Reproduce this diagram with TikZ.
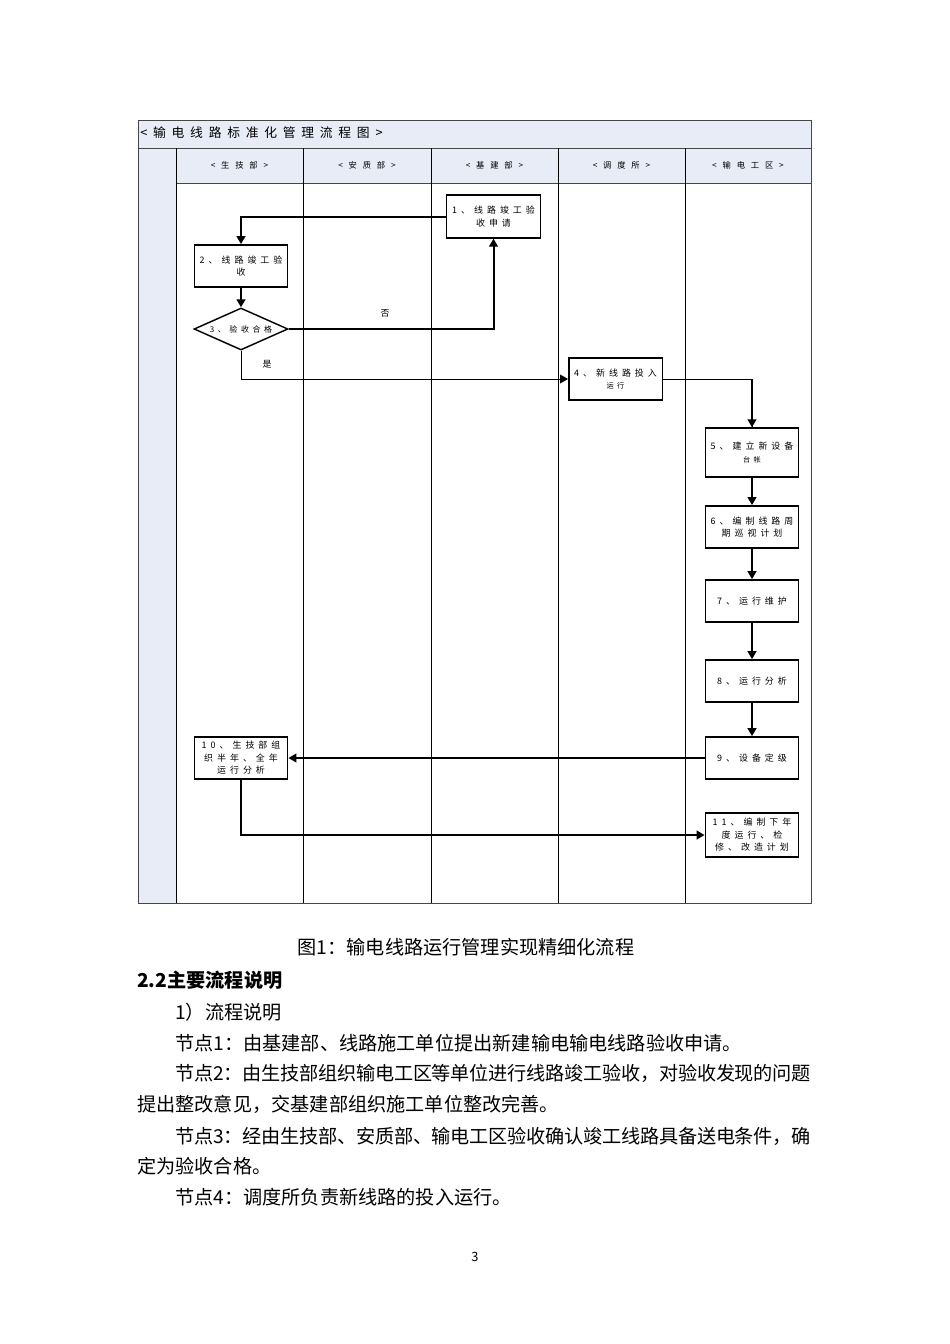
\documentclass[tikz,border=0pt]{standalone}
\usepackage{fontspec}
\setmainfont{Noto Sans CJK SC}
\newfontfamily\cjk{Noto Sans CJK SC}
\newfontfamily\cjktight[LetterSpace=-1.2]{Noto Sans CJK SC}
\newfontfamily\cjksp[LetterSpace=45]{Noto Sans CJK SC}
\newfontfamily\cjkhd[LetterSpace=70]{Noto Sans CJK SC}
\newfontfamily\cjkti[LetterSpace=45]{Noto Sans CJK SC}
\usetikzlibrary{arrows.meta,shapes.geometric}
\definecolor{hdfill}{RGB}{232,236,247}
\definecolor{gridc}{RGB}{70,70,70}
\tikzset{
  box/.style={draw, line width=0.9pt, fill=white, minimum width=58.5pt, minimum height=26.5pt,
    inner sep=0pt, align=center, font=\fontsize{5.6pt}{7.8pt}\cjksp},
  dia/.style={draw, line width=0.9pt, fill=white, diamond, aspect=2.24, minimum width=58.8pt,
    minimum height=26.3pt, inner sep=0pt, align=center, font=\fontsize{5pt}{7pt}\cjksp},
  conn/.style={line width=1.25pt, -{Triangle[length=5pt,width=5.5pt]}},
  thinconn/.style={line width=0.6pt, -{Triangle[length=5pt,width=5.5pt]}},
  lab/.style={font=\fontsize{5.6pt}{7pt}\cjk, inner sep=0pt},
  hd/.style={font=\fontsize{5.2pt}{7pt}\cjkhd, inner sep=0pt},
  body/.style={font=\fontsize{12pt}{14pt}\cjk, inner sep=0pt, anchor=west},
  grid/.style={draw=gridc, line width=0.6pt}
}
\begin{document}
\begin{tikzpicture}[x=0.626pt, y=-0.626pt]
\useasboundingbox (0,0) rectangle (950,1344);
\fill[white] (0,0) rectangle (950,1344);
% table fills
\fill[hdfill] (138,120) rectangle (811,148);
\fill[hdfill] (138,148) rectangle (176,903);
\fill[hdfill] (176,148) rectangle (811,183);
% grid
\draw[grid] (138,120) rectangle (811,903);
\draw[grid] (138,148) -- (811,148);
\draw[grid] (176,183) -- (811,183);
\draw[line width=0.6pt] (176,148) -- (176,903);
\foreach \x in {303,431,558,685} \draw[line width=0.6pt] (\x,148) -- (\x,903);
% title and headers
\node[anchor=west, inner sep=0pt, font=\fontsize{8pt}{10pt}\cjkti] (title) at (140,133) {<输电线路标准化管理流程图>};
\node[hd] (h1) at (239.5,165) {<生技部>};
\node[hd] (h2) at (367,165) {<安质部>};
\node[hd] (h3) at (494.5,165) {<基建部>};
\node[hd] (h4) at (621.5,165) {<调度所>};
\node[hd] (h5) at (748,165) {<输电工区>};
% nodes
\node[box, minimum height=26.9pt] (n1) at (493.5,216.5) {1、线路竣工验\\收申请};
\node[box] (n2) at (241,266) {2、线路竣工验\\收};
\node[dia] (n3) at (241,329) {3、验收合格};
\node[box] (n4) at (615.5,379) {4、新线路投入\\{\fontsize{4.5pt}{6pt}\selectfont 运行}};
\node[box, minimum height=30.7pt] (n5) at (752,452.5) {5、建立新设备\\{\fontsize{4.5pt}{6pt}\selectfont 台帐}};
\node[box] (n6) at (752,527) {6、编制线路周\\期巡视计划};
\node[box] (n7) at (752,601) {7、运行维护};
\node[box] (n8) at (752,681) {8、运行分析};
\node[box] (n9) at (752,758) {9、设备定级};
\node[box] (n10) at (241,758) {10、生技部组\\织半年、全年\\运行分析};
\node[box, minimum height=27.5pt] (n11) at (752,835) {11、编制下年\\度运行、检\\修、改造计划};
% connectors
\draw[conn] (n1.west) -| (n2.north);
\draw[conn] (n2.south) -- (n3.north);
\draw[conn] (n3.east) -| (n1.south);
\coordinate (c34) at (241,379);
\draw[thinconn] (n3.south) -- (c34) -- (n4.west);
\draw[line width=0.6pt] (n4.east) -| (n5.north);
\draw[conn] (n5.north |- n4.east) -- (n5.north);
\draw[conn] (n5.south) -- (n6.north);
\draw[conn] (n6.south) -- (n7.north);
\draw[conn] (n7.south) -- (n8.north);
\draw[conn] (n8.south) -- (n9.north);
\draw[conn, line width=1pt] (n9.west) -- (n10.east);
\draw[conn] (n10.south) |- (n11.west);
\node[lab] (no) at (385,313) {否};
\node[lab] (yes) at (267,364) {是};
% text below
\node[font=\fontsize{12pt}{14pt}\cjk, inner sep=0pt] (cap) at (466,947) {图1：输电线路运行管理实现精细化流程};
\node[body, font=\fontsize{12pt}{14pt}\cjk\bfseries] (t0) at (137,980) {2.2主要流程说明};
\node[body] (t1) at (175,1012) {1）流程说明};
\node[body] (t2) at (175,1043) {节点1：由基建部、线路施工单位提出新建输电输电线路验收申请。};
\node[body, font=\fontsize{12pt}{14pt}\cjktight] (t3) at (175,1073) {节点2：由生技部组织输电工区等单位进行线路竣工验收，对验收发现的问题};
\node[body] (t4) at (137,1104) {提出整改意见，交基建部组织施工单位整改完善。};
\node[body, font=\fontsize{12pt}{14pt}\cjktight] (t5) at (175,1136) {节点3：经由生技部、安质部、输电工区验收确认竣工线路具备送电条件，确};
\node[body] (t6) at (137,1166) {定为验收合格。};
\node[body] (t7) at (175,1197) {节点4：调度所负责新线路的投入运行。};
\node[font=\fontsize{8pt}{10pt}\cjk, inner sep=0pt] (pg) at (475,1257) {3};
\end{tikzpicture}
\end{document}
